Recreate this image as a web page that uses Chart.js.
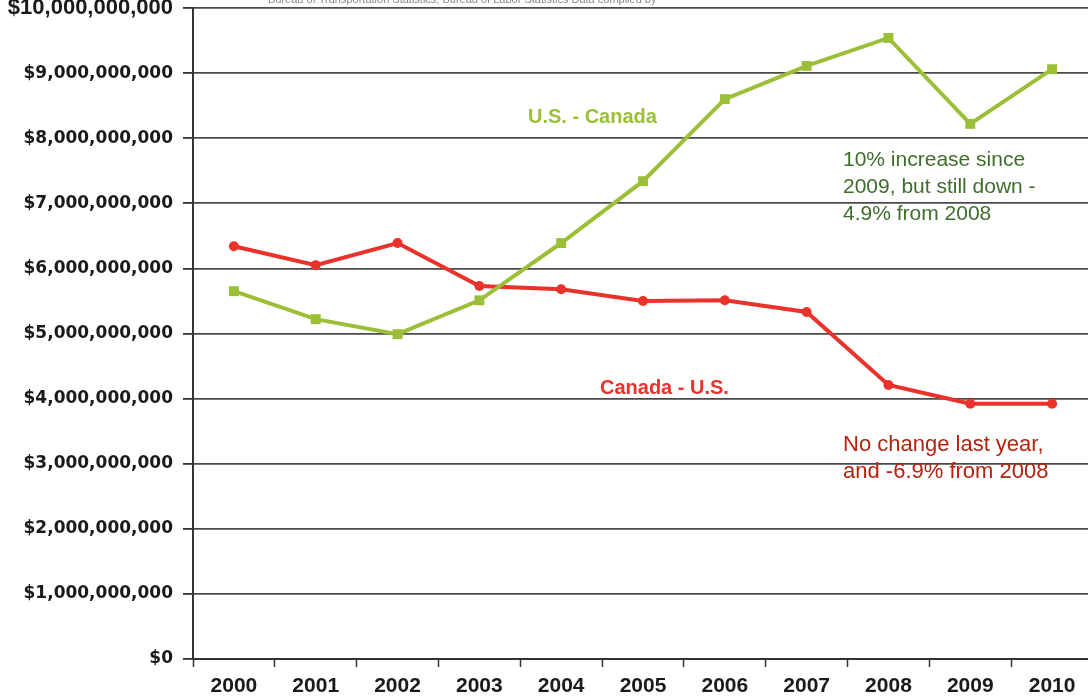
<!DOCTYPE html>
<html>
<head>
<meta charset="utf-8">
<script src="https://cdn.jsdelivr.net/npm/chart.js@4"></script>
<style>
  html, body { margin: 0; padding: 0; background: #fff; overflow: hidden; }
  #wrap { position: relative; width: 1100px; height: 696px; }
</style>
</head>
<body>
<div id="wrap"><canvas id="lineChart" width="1100" height="696"></canvas></div>
<script>
// --- Data ---
const years = ['2000', '2001', '2002', '2003', '2004', '2005', '2006', '2007', '2008', '2009', '2010'];
const usToCanada = [5.65e9, 5.22e9, 4.99e9, 5.51e9, 6.39e9, 7.34e9, 8.60e9, 9.11e9, 9.54e9, 8.22e9, 9.06e9];
const canadaToUs = [6.34e9, 6.05e9, 6.39e9, 5.73e9, 5.68e9, 5.50e9, 5.51e9, 5.33e9, 4.21e9, 3.92e9, 3.92e9];
const seriesNames = ['U.S. - Canada', 'Canada - U.S.'];
const greenNote = ['10% increase since', '2009, but still down -', '4.9% from 2008'];
const redNote = ['No change last year,', 'and -6.9% from 2008'];

const GREEN = '#9cbf38';
const RED = '#e8322a';

const fmtMoney = v => '$' + Math.round(v).toLocaleString('en-US');

// labels and notes drawn on top of the plot
const notesPlugin = {
    id: 'notes',
    afterDatasetsDraw(chart) {
        const ctx = chart.ctx;
        ctx.save();
        ctx.textBaseline = 'middle';
        ctx.font = 'bold 20px "Liberation Sans", Arial, sans-serif';
        ctx.fillStyle = GREEN;
        ctx.fillText(seriesNames[0], 528, 117);
        ctx.fillStyle = RED;
        ctx.fillText(seriesNames[1], 600, 388);

        ctx.font = '21px "Liberation Sans", Arial, sans-serif';
        ctx.fillStyle = '#3f6e2c';
        greenNote.forEach((t, i) => ctx.fillText(t, 843, 160 + i * 27));
        ctx.font = '22px "Liberation Sans", Arial, sans-serif';
        ctx.fillStyle = '#b3230f';
        redNote.forEach((t, i) => ctx.fillText(t, 843, 445 + i * 27));

        // faint source line at the very top, mostly cut off
        ctx.font = '11px "Liberation Sans", Arial, sans-serif';
        ctx.fillStyle = '#888';
        ctx.fillText('Bureau of Transportation Statistics, Bureau of Labor Statistics Data compiled by', 268, 0);
        ctx.restore();
    }
};

const ctx = document.getElementById('lineChart').getContext('2d');
new Chart(ctx, {
    type: 'line',
    data: {
        labels: years,
        datasets: [
            {
                label: seriesNames[0],
                data: usToCanada,
                borderColor: GREEN,
                backgroundColor: GREEN,
                borderWidth: 4,
                pointStyle: 'rect',
                pointRadius: 7,
                pointBorderWidth: 0,
                tension: 0
            },
            {
                label: seriesNames[1],
                data: canadaToUs,
                borderColor: RED,
                backgroundColor: RED,
                borderWidth: 4,
                pointStyle: 'circle',
                pointRadius: 5,
                pointBorderWidth: 0,
                tension: 0
            }
        ]
    },
    plugins: [notesPlugin],
    options: {
        responsive: false,
        animation: false,
        layout: { padding: { top: 8, right: 5 } },
        plugins: {
            legend: { display: false },
            tooltip: { enabled: false }
        },
        scales: {
            x: {
                offset: true,
                grid: {
                    offset: true,
                    drawOnChartArea: false,
                    color: '#333',
                    tickLength: 8,
                    tickWidth: 1.5
                },
                border: { color: '#333', width: 2 },
                ticks: {
                    autoSkip: false,
                    color: '#1a1a1a',
                    padding: 7,
                    maxRotation: 0,
                    font: { family: '"Liberation Sans", Arial, sans-serif', size: 21, weight: 'bold' }
                },
                afterFit: s => { s.height = 37; }
            },
            y: {
                min: 0,
                max: 10e9,
                grid: {
                    color: '#4a4a4a',
                    lineWidth: 1.8,
                    tickLength: 10,
                    tickColor: '#333'
                },
                border: { color: '#333', width: 2 },
                ticks: {
                    autoSkip: false,
                    stepSize: 1e9,
                    color: '#1a1a1a',
                    padding: 10,
                    font: ctx => ctx.tick && ctx.tick.value === 10e9
                        ? { family: '"Liberation Sans", Arial, sans-serif', size: 22, weight: 'bold' }
                        : { family: '"DejaVu Sans", sans-serif', size: 17, weight: 'bold' },
                    callback: v => fmtMoney(v)
                },
                afterFit: s => { s.width = 193; s.paddingTop = 0; s.paddingBottom = 0; }
            }
        }
    }
});
</script>
</body>
</html>
